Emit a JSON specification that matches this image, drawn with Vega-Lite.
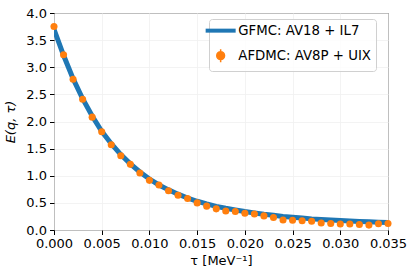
{
  "$schema": "https://vega.github.io/schema/vega-lite/v6.json",
  "width": 334,
  "height": 217,
  "autosize": "none",
  "padding": {"left": 54, "top": 13, "right": 27, "bottom": 47},
  "background": "white",
  "config": {
    "font": "DejaVu Sans",
    "view": {"stroke": "black", "strokeWidth": 1},
    "axis": {
      "labelFont": "DejaVu Sans", "labelFontSize": 13, "labelColor": "black", "labelOverlap": false, "labelFlush": false,
      "titleFont": "DejaVu Sans", "titleFontSize": 13, "titleColor": "black", "titleFontWeight": "normal",
      "tickColor": "black", "tickSize": 4.5, "tickWidth": 1, "domain": false,
      "gridColor": "#f0f0f0", "gridWidth": 0.8, "labelPadding": 3
    }
  },
  "datasets": {
    "gfmc": [
      {"tau": 0.000, "E": 3.70}, {"tau": 0.001, "E": 3.22}, {"tau": 0.002, "E": 2.79}, {"tau": 0.003, "E": 2.42},
      {"tau": 0.004, "E": 2.10}, {"tau": 0.005, "E": 1.82}, {"tau": 0.006, "E": 1.59}, {"tau": 0.007, "E": 1.39},
      {"tau": 0.008, "E": 1.22}, {"tau": 0.009, "E": 1.07}, {"tau": 0.010, "E": 0.94}, {"tau": 0.011, "E": 0.83},
      {"tau": 0.012, "E": 0.74}, {"tau": 0.013, "E": 0.66}, {"tau": 0.014, "E": 0.59}, {"tau": 0.015, "E": 0.53},
      {"tau": 0.016, "E": 0.48}, {"tau": 0.017, "E": 0.435}, {"tau": 0.018, "E": 0.40}, {"tau": 0.019, "E": 0.37},
      {"tau": 0.020, "E": 0.34}, {"tau": 0.021, "E": 0.315}, {"tau": 0.022, "E": 0.29}, {"tau": 0.023, "E": 0.27},
      {"tau": 0.024, "E": 0.25}, {"tau": 0.025, "E": 0.235}, {"tau": 0.026, "E": 0.22}, {"tau": 0.027, "E": 0.205},
      {"tau": 0.028, "E": 0.195}, {"tau": 0.029, "E": 0.185}, {"tau": 0.030, "E": 0.175}, {"tau": 0.031, "E": 0.165},
      {"tau": 0.032, "E": 0.157}, {"tau": 0.033, "E": 0.15}, {"tau": 0.034, "E": 0.143}, {"tau": 0.035, "E": 0.137}
    ],
    "afdmc": [
      {"tau": 0.000, "E": 3.75, "err": 0.03}, {"tau": 0.001, "E": 3.23, "err": 0.03}, {"tau": 0.002, "E": 2.78, "err": 0.03},
      {"tau": 0.003, "E": 2.41, "err": 0.03}, {"tau": 0.004, "E": 2.08, "err": 0.03}, {"tau": 0.005, "E": 1.81, "err": 0.03},
      {"tau": 0.006, "E": 1.57, "err": 0.03}, {"tau": 0.007, "E": 1.37, "err": 0.03}, {"tau": 0.008, "E": 1.21, "err": 0.03},
      {"tau": 0.009, "E": 1.05, "err": 0.03}, {"tau": 0.010, "E": 0.915, "err": 0.03}, {"tau": 0.011, "E": 0.83, "err": 0.03},
      {"tau": 0.012, "E": 0.725, "err": 0.03}, {"tau": 0.013, "E": 0.64, "err": 0.03}, {"tau": 0.014, "E": 0.58, "err": 0.03},
      {"tau": 0.015, "E": 0.50, "err": 0.03}, {"tau": 0.016, "E": 0.44, "err": 0.03}, {"tau": 0.017, "E": 0.39, "err": 0.03},
      {"tau": 0.018, "E": 0.35, "err": 0.03}, {"tau": 0.019, "E": 0.34, "err": 0.03}, {"tau": 0.020, "E": 0.31, "err": 0.03},
      {"tau": 0.021, "E": 0.295, "err": 0.03}, {"tau": 0.022, "E": 0.26, "err": 0.03}, {"tau": 0.023, "E": 0.23, "err": 0.03},
      {"tau": 0.024, "E": 0.185, "err": 0.03}, {"tau": 0.025, "E": 0.18, "err": 0.03}, {"tau": 0.026, "E": 0.17, "err": 0.03},
      {"tau": 0.027, "E": 0.16, "err": 0.03}, {"tau": 0.028, "E": 0.13, "err": 0.03}, {"tau": 0.029, "E": 0.12, "err": 0.03},
      {"tau": 0.030, "E": 0.11, "err": 0.03}, {"tau": 0.031, "E": 0.11, "err": 0.03}, {"tau": 0.032, "E": 0.10, "err": 0.03},
      {"tau": 0.033, "E": 0.09, "err": 0.03}, {"tau": 0.034, "E": 0.115, "err": 0.03}, {"tau": 0.035, "E": 0.12, "err": 0.03}
    ]
  },
  "encoding": {
    "x": {"field": "tau", "type": "quantitative",
      "scale": {"domain": [0, 0.035], "nice": false, "zero": false},
      "axis": {"values": [0, 0.005, 0.01, 0.015, 0.02, 0.025, 0.03, 0.035], "format": ".3f", "title": "τ [MeV⁻¹]", "titlePadding": 4}},
    "y": {"field": "E", "type": "quantitative",
      "scale": {"domain": [0, 4], "nice": false},
      "axis": {"values": [0, 0.5, 1, 1.5, 2, 2.5, 3, 3.5, 4], "format": ".1f", "title": "E(q, τ)", "titleFontStyle": "italic", "titlePadding": 8}}
  },
  "layer": [
    {
      "data": {"name": "gfmc"},
      "transform": [{"calculate": "'GFMC: AV18 + IL7'", "as": "series"}],
      "mark": {"type": "line", "strokeWidth": 5, "clip": true},
      "encoding": {
        "color": {"field": "series", "type": "nominal",
          "scale": {"domain": ["GFMC: AV18 + IL7", "AFDMC: AV8P + UIX"], "range": ["#1f77b4", "#ff7f0e"]},
          "legend": {
            "title": null, "orient": "none", "legendX": 155, "legendY": 6,
            "labelFont": "DejaVu Sans", "labelFontSize": 13.3, "labelColor": "black",
            "strokeColor": "#d0d0d0", "fillColor": "rgba(255,255,255,0.8)", "cornerRadius": 3,
            "padding": 5, "rowPadding": 7, "labelOffset": 11, "symbolSize": 900,
            "encode": {
              "symbols": {"update": {
                "shape": {"signal": "datum.index == 0 ? 'stroke' : 'M-0.6,0A0.6,0.6,0,1,1,0.6,0A0.6,0.6,0,1,1,-0.6,0Z M0,-1L0,1'"},
                "size": {"signal": "datum.index == 0 ? 900 : 169"},
                "strokeWidth": {"signal": "datum.index == 0 ? 4 : 1.5"},
                "stroke": {"signal": "datum.index == 0 ? '#1f77b4' : '#ff7f0e'"},
                "fill": {"signal": "datum.index == 0 ? 'transparent' : '#ff7f0e'"},
                "opacity": {"value": 1}
              }}
            }
          }}
      }
    },
    {
      "data": {"name": "afdmc"},
      "transform": [
        {"calculate": "'AFDMC: AV8P + UIX'", "as": "series"},
        {"calculate": "datum.E - datum.err", "as": "lo"},
        {"calculate": "datum.E + datum.err", "as": "hi"}
      ],
      "layer": [
        {"mark": {"type": "rule", "strokeWidth": 1.5, "color": "#ff7f0e"},
         "encoding": {"y": {"field": "lo", "type": "quantitative"}, "y2": {"field": "hi"}}},
        {"mark": {"type": "circle", "size": 50, "opacity": 1, "clip": false},
         "encoding": {"color": {"field": "series", "type": "nominal"}}}
      ]
    }
  ]
}
